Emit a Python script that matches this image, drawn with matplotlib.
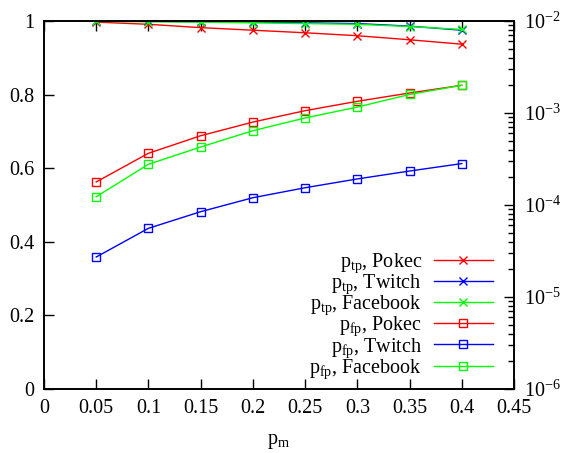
import numpy as np
import matplotlib
matplotlib.use("Agg")
import matplotlib.pyplot as plt
from matplotlib.ticker import FormatStrFormatter, LogLocator, NullFormatter

plt.rcParams['font.family'] = ['Liberation Serif', 'DejaVu Serif']
plt.rcParams['mathtext.fontset'] = 'stix'
plt.rcParams['font.size'] = 14.5

# 数据
pm = [0.05, 0.1, 0.15, 0.2, 0.25, 0.3, 0.35, 0.4]

# p_tp (左轴)
ptp_pokec = [0.997, 0.991, 0.982, 0.975, 0.968, 0.960, 0.949, 0.937]
ptp_twitch = [0.999, 0.999, 0.998, 0.997, 0.995, 0.993, 0.986, 0.975]
ptp_facebook = [0.999, 0.998, 0.997, 0.995, 0.993, 0.991, 0.985, 0.977]

# p_fp (右轴, 对数)
pfp_pokec = [1.78e-4, 3.65e-4, 5.66e-4, 7.97e-4, 1.06e-3, 1.34e-3, 1.65e-3, 2.0e-3]
pfp_twitch = [2.72e-5, 5.58e-5, 8.46e-5, 1.20e-4, 1.54e-4, 1.92e-4, 2.34e-4, 2.82e-4]
pfp_facebook = [1.23e-4, 2.77e-4, 4.27e-4, 6.42e-4, 8.83e-4, 1.16e-3, 1.59e-3, 2.0e-3]

red, blue, green = '#ff0000', '#0000ff', '#00ff00'

fig = plt.figure(figsize=(5.73, 4.53), dpi=100)
ax1 = fig.add_axes([44 / 573, 1 - 389 / 453, 470 / 573, 368 / 453])
ax2 = ax1.twinx()

lines = []
for y, c, name in [(ptp_pokec, red, 'Pokec'), (ptp_twitch, blue, 'Twitch'),
                   (ptp_facebook, green, 'Facebook')]:
    l, = ax1.plot(pm, y, color=c, lw=1, marker='x', ms=5.5, mew=1,
                  label=r'$\mathregular{p_{tp}}$, ' + name)
    lines.append(l)
for y, c, name in [(pfp_pokec, red, 'Pokec'), (pfp_twitch, blue, 'Twitch'),
                   (pfp_facebook, green, 'Facebook')]:
    l, = ax2.plot(pm, y, color=c, lw=1, marker='s', ms=5.5, mew=1, mfc='none',
                  label=r'$\mathregular{p_{fp}}$, ' + name)
    lines.append(l)

ax1.set_xlim(0, 0.45)
ax1.set_ylim(0, 1)
ax1.set_xticks(np.arange(0, 0.451, 0.05))
ax1.set_yticks(np.arange(0, 1.01, 0.2))
ax1.xaxis.set_major_formatter(FormatStrFormatter('%g'))
ax1.yaxis.set_major_formatter(FormatStrFormatter('%g'))
ax1.tick_params(direction='in', length=7, width=1, top=True, right=False, pad=7)
ax1.set_xlabel(r'$\mathregular{p_m}$', labelpad=10)

ax2.set_yscale('log')
ax2.set_ylim(1e-6, 1e-2)
ax2.yaxis.set_major_locator(LogLocator(base=10, numticks=10))
ax2.yaxis.set_minor_locator(LogLocator(base=10, subs=np.arange(2, 10), numticks=10))
ax2.yaxis.set_minor_formatter(NullFormatter())
ax2.tick_params(which='major', direction='in', length=7, width=1, pad=7)
ax2.tick_params(which='minor', direction='in', length=4, width=1)

for a in (ax1, ax2):
    for s in a.spines.values():
        s.set_linewidth(1.2)

ax2.legend(handles=lines, loc='lower right', bbox_to_anchor=(0.98, -0.01),
           frameon=False, markerfirst=False, handlelength=2.9, handletextpad=0.6,
           labelspacing=-0.12, borderaxespad=0.2)

fig.savefig('out.png', dpi=100)
